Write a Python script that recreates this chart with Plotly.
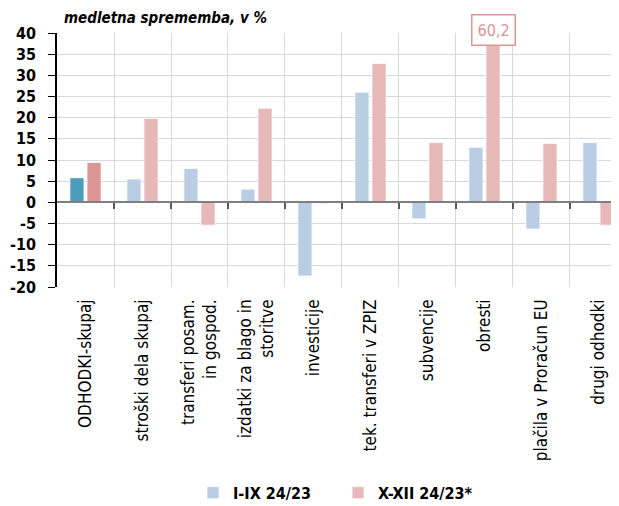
import plotly.graph_objects as go

categories = ["ODHODKI-skupaj", "stroški dela skupaj", "transferi posam.<br>in gospod.",
              "izdatki za blago in<br>storitve", "investicije", "tek. transferi v ZPIZ",
              "subvencije", "obresti", "plačila v Proračun EU", "drugi odhodki"]
s1_name = "I-IX 24/23"
s2_name = "X-XII 24/23*"
s1_values = [5.8, 5.5, 8.0, 3.1, -17.4, 26.0, -3.9, 13.0, -6.3, 14.1]
s2_values = [9.4, 19.8, -5.4, 22.2, -0.3, 32.8, 14.1, 60.2, 13.9, -5.4]
y_ticks = list(range(-20, 45, 5))

FONT = "DejaVu Sans Condensed, Liberation Sans Narrow, sans-serif"
LB, LP = "#b9cde5", "#e6b9b8"
DB, DP = "#4f9bbb", "#d99694"

xs = list(range(len(categories)))
fig = go.Figure()
line = dict(color="rgba(255,255,255,0.7)", width=1)
fig.add_trace(go.Bar(x=xs[:1], y=s1_values[:1], marker=dict(color=DB, line=line),
                     offsetgroup="a", showlegend=False))
fig.add_trace(go.Bar(x=xs[1:], y=s1_values[1:], marker=dict(color=LB, line=line),
                     offsetgroup="a", name=s1_name))
fig.add_trace(go.Bar(x=xs[:1], y=s2_values[:1], marker=dict(color=DP, line=line),
                     offsetgroup="b", showlegend=False))
fig.add_trace(go.Bar(x=xs[1:], y=s2_values[1:], marker=dict(color=LP, line=line),
                     offsetgroup="b", name=s2_name))
fig.add_trace(go.Scatter(x=[None], y=[None], xaxis="x2", showlegend=False, hoverinfo="skip"))

xr = [-0.5, 9.36]
# the page body has an 8px margin, so the figure is 8px smaller than the window
fig.update_layout(
    width=611, height=498,
    margin=dict(l=49, r=0, t=25, b=219, autoexpand=False),
    plot_bgcolor="white", paper_bgcolor="white",
    barmode="group", bargap=0.40, bargroupgap=0.18,
    font=dict(family=FONT, color="black"),
    xaxis=dict(range=xr, anchor="free", position=1/3, side="bottom",
               tickmode="array", tickvals=[i + 0.5 for i in range(9)],
               showticklabels=False, ticks="outside", ticklen=6, tickwidth=1.5,
               tickcolor="#595959", showgrid=True, gridcolor="#d9d9d9", gridwidth=1,
               showline=True, linecolor="#7f7f7f", linewidth=2, zeroline=False),
    xaxis2=dict(range=xr, overlaying="x", anchor="y", side="bottom",
                tickmode="array", tickvals=xs, ticktext=categories, tickangle=-90,
                tickfont=dict(size=17, family=FONT), ticks="", showgrid=False,
                showline=False, zeroline=False, ticklabelstandoff=8, automargin=False),
    yaxis=dict(range=[-20, 40], tickmode="array", tickvals=y_ticks,
               ticktext=[str(v) for v in y_ticks],
               tickfont=dict(size=16, family=FONT, weight="bold"),
               ticks="outside", ticklen=7, tickcolor="black", tickwidth=1,
               showline=True, linecolor="black", linewidth=1.5,
               showgrid=True, gridcolor="#d9d9d9", gridwidth=1, zeroline=False,
               ticklabelstandoff=9, automargin=False),
    legend=dict(orientation="h", x=0.5, xanchor="center", y=-0.81, yanchor="middle",
                font=dict(size=16, family=FONT, weight="bold"),
                entrywidth=100, entrywidthmode="pixels", traceorder="normal"),
    annotations=[
        dict(text="<i>medletna sprememba, v %</i>", xref="paper", yref="paper",
             x=0.009, y=1.059, xanchor="left", yanchor="middle", showarrow=False,
             font=dict(size=15, family=FONT, weight="bold")),
        dict(text="60,2", xref="x", yref="paper", x=7.15, y=1.012, xanchor="center",
             yanchor="middle", showarrow=False, bgcolor="white", bordercolor=DP,
             borderwidth=1.5, borderpad=5, font=dict(size=16, family=FONT, color=DP)),
    ],
)
fig.write_html("out.html")
